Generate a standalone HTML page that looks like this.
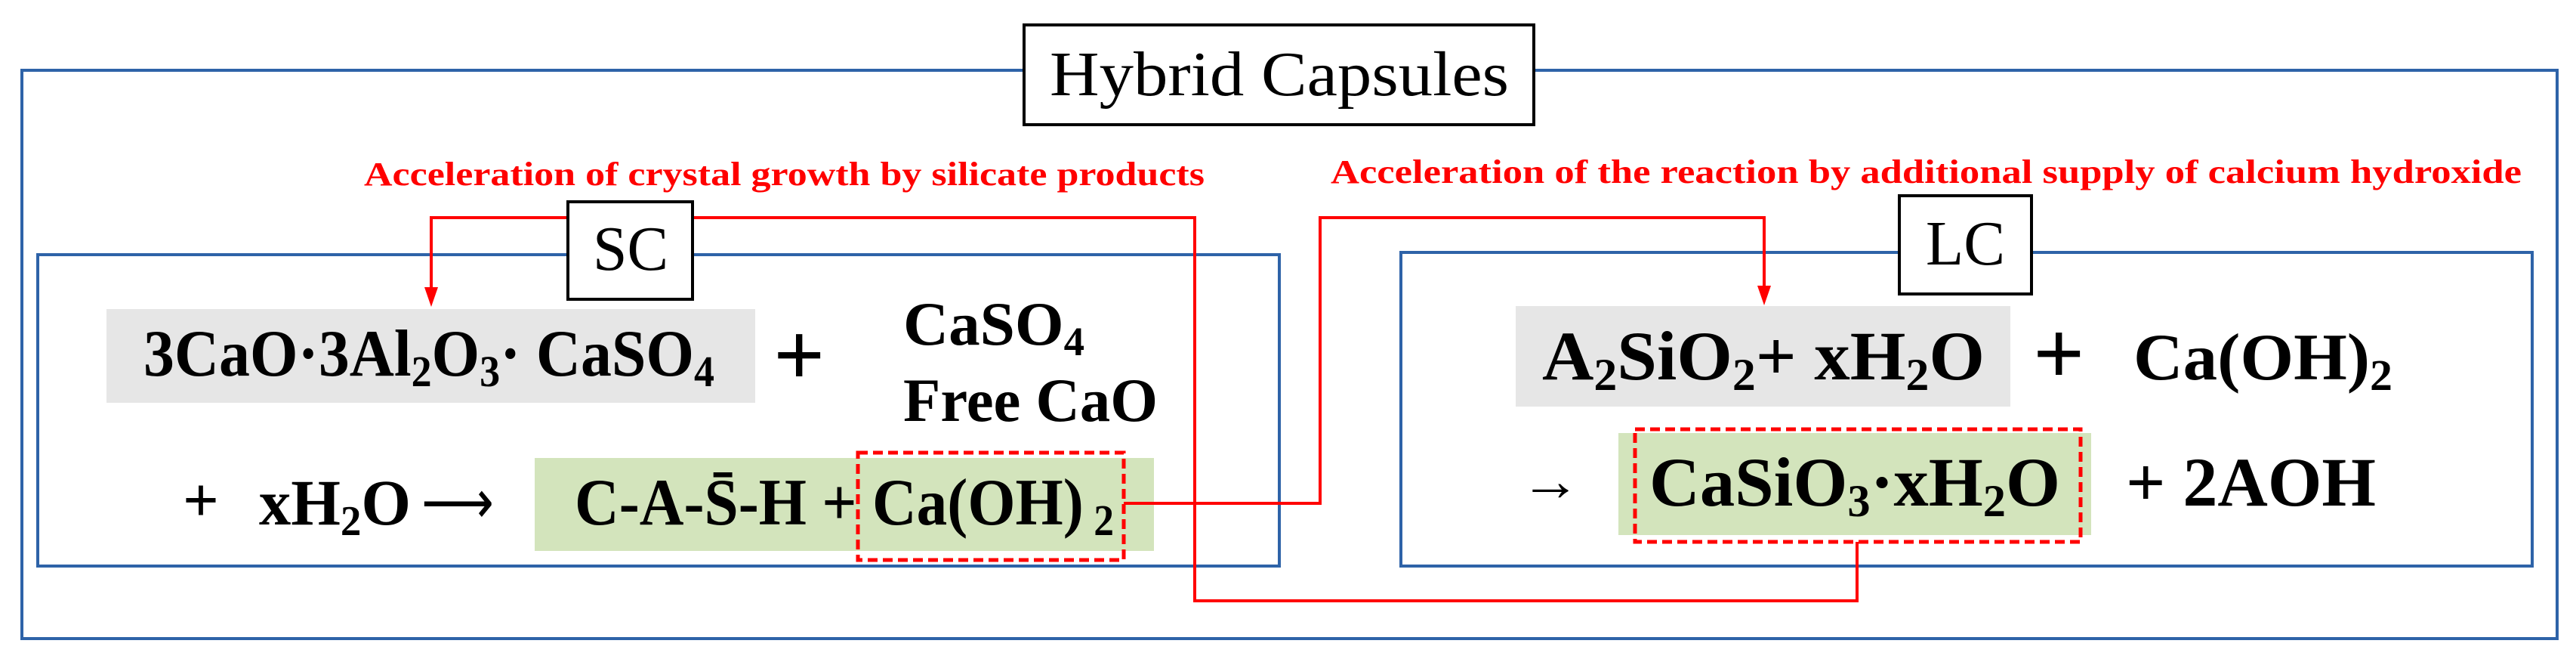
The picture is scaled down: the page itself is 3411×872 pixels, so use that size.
<!DOCTYPE html>
<html><head><meta charset="utf-8"><style>
html,body{margin:0;padding:0;background:#fff;}
svg{display:block;}
text{font-family:"Liberation Serif",serif;}
.b{font-weight:bold;}
</style></head><body>
<svg width="3411" height="872" viewBox="0 0 3411 872" xmlns="http://www.w3.org/2000/svg">
<!-- outer blue box -->
<rect x="29" y="93" width="3357" height="752" fill="none" stroke="#2e63a8" stroke-width="4"/>
<!-- inner blue boxes -->
<rect x="50" y="337" width="1644" height="412" fill="none" stroke="#2e63a8" stroke-width="4"/>
<rect x="1855" y="334" width="1498" height="415" fill="none" stroke="#2e63a8" stroke-width="4"/>
<!-- gray/green boxes -->
<rect x="141" y="409" width="859" height="124" fill="#e6e6e6"/>
<rect x="708" y="606" width="820" height="123" fill="#d3e4bc"/>
<rect x="2007" y="405" width="655" height="133" fill="#e6e6e6"/>
<rect x="2143" y="573" width="626" height="135" fill="#d3e4bc"/>
<!-- red connectors -->
<g fill="none" stroke="#ff0000" stroke-width="4">
<polyline points="752,288 571,288 571,385"/>
<polyline points="917,288 1582,288 1582,795 2459,795 2459,717"/>
<polyline points="1488,666 1748,666 1748,288 2336,288 2336,383"/>
<rect x="1136" y="599" width="352" height="142" stroke-dasharray="13,7" stroke-width="5"/>
<rect x="2165" y="568" width="590" height="149" stroke-dasharray="13,7" stroke-width="5"/>
</g>
<polygon points="562,380 580,380 571,406" fill="#ff0000"/>
<polygon points="2327,378 2345,378 2336,404" fill="#ff0000"/>
<!-- label boxes -->
<rect x="1356" y="33" width="675" height="132" fill="#fff" stroke="#000" stroke-width="4"/>
<text x="1390" y="126" font-size="84" textLength="608" lengthAdjust="spacingAndGlyphs">Hybrid Capsules</text>
<rect x="752" y="267" width="165" height="129" fill="#fff" stroke="#000" stroke-width="4"/>
<text x="785" y="357" font-size="84" textLength="100" lengthAdjust="spacingAndGlyphs">SC</text>
<rect x="2515" y="259" width="175" height="130" fill="#fff" stroke="#000" stroke-width="4"/>
<text x="2550" y="350" font-size="84" textLength="105" lengthAdjust="spacingAndGlyphs">LC</text>
<!-- red labels -->
<text class="b" x="482" y="245" font-size="44" fill="#ff0000" textLength="1113" lengthAdjust="spacingAndGlyphs">Acceleration of crystal growth by silicate products</text>
<text class="b" x="1762" y="242" font-size="44" fill="#ff0000" textLength="1577" lengthAdjust="spacingAndGlyphs">Acceleration of the reaction by additional supply of calcium hydroxide</text>
<!-- SC formulas -->
<text class="b" x="190" y="497" font-size="88" textLength="756" lengthAdjust="spacingAndGlyphs">3CaO·3Al<tspan font-size="58" dy="14">2</tspan><tspan dy="-14">O</tspan><tspan font-size="58" dy="14">3</tspan><tspan dy="-14">· CaSO</tspan><tspan font-size="58" dy="14">4</tspan></text>
<text class="b" x="1024" y="510" font-size="120">+</text>
<text class="b" x="1196" y="456" font-size="82" textLength="240" lengthAdjust="spacingAndGlyphs">CaSO<tspan font-size="54" dy="14">4</tspan></text>
<text class="b" x="1196" y="557" font-size="82" textLength="337" lengthAdjust="spacingAndGlyphs">Free CaO</text>
<text class="b" x="242" y="690" font-size="84">+</text>
<text class="b" x="343" y="694" font-size="86" textLength="201" lengthAdjust="spacingAndGlyphs">xH<tspan font-size="56" dy="14">2</tspan><tspan dy="-14">O</tspan></text>
<text x="558" y="692" font-size="80" textLength="96" lengthAdjust="spacingAndGlyphs">⟶</text>
<text class="b" x="761" y="694" font-size="88" textLength="714" lengthAdjust="spacingAndGlyphs">C-A-S̄-H + Ca(OH)<tspan font-size="58" dy="14"> 2</tspan></text>
<!-- LC formulas -->
<text class="b" x="2042" y="502" font-size="92" textLength="586" lengthAdjust="spacingAndGlyphs">A<tspan font-size="60" dy="14">2</tspan><tspan dy="-14">SiO</tspan><tspan font-size="60" dy="14">2</tspan><tspan dy="-14">+ xH</tspan><tspan font-size="60" dy="14">2</tspan><tspan dy="-14">O</tspan></text>
<text class="b" x="2692" y="508" font-size="120">+</text>
<text class="b" x="2825" y="502" font-size="88" textLength="343" lengthAdjust="spacingAndGlyphs">Ca(OH)<tspan font-size="58" dy="14">2</tspan></text>
<text x="2013" y="662" font-size="76" textLength="80" lengthAdjust="spacingAndGlyphs">→</text>
<text class="b" x="2184" y="669" font-size="92" textLength="544" lengthAdjust="spacingAndGlyphs">CaSiO<tspan font-size="60" dy="14">3</tspan><tspan dy="-14">·xH</tspan><tspan font-size="60" dy="14">2</tspan><tspan dy="-14">O</tspan></text>
<text class="b" x="2815" y="669" font-size="92" textLength="331" lengthAdjust="spacingAndGlyphs">+ 2AOH</text>
</svg>
</body></html>
